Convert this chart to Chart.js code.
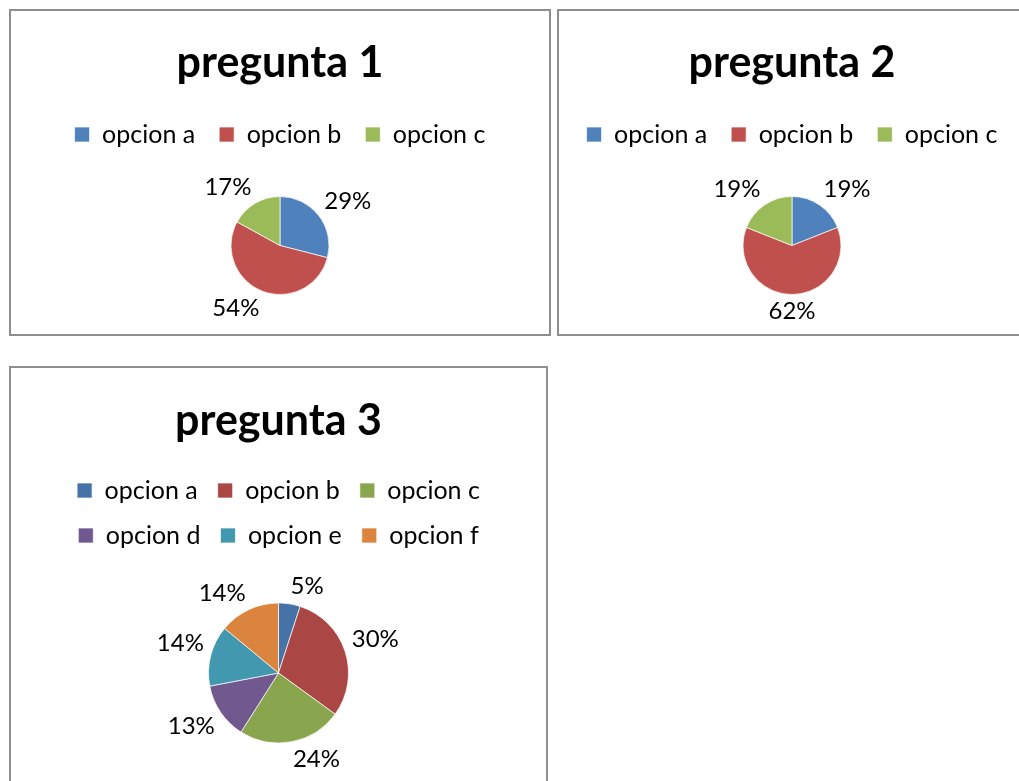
<!DOCTYPE html>
<html>
<head>
<meta charset="utf-8">
<script src="https://cdn.jsdelivr.net/npm/chart.js@4.4.0/dist/chart.umd.min.js"></script>
<style>
  body { margin: 0; background: #fff; width: 1019px; height: 781px; overflow: hidden; position: relative; }
  .box { position: absolute; border: 2px solid #8e8e8e; background: #fff; box-sizing: border-box; }
  .box canvas { display: block; }
</style>
</head>
<body>
<div class="box" style="left:9px;top:9px;width:542px;height:327px"><canvas id="c1" width="538" height="323"></canvas></div>
<div class="box" style="left:557px;top:9px;width:470px;height:327px"><canvas id="c2" width="466" height="323"></canvas></div>
<div class="box" style="left:9px;top:366px;width:539px;height:440px"><canvas id="c3" width="535" height="436"></canvas></div>
<script>
// answers per question (percent)
const opciones3 = ['opcion a', 'opcion b', 'opcion c'];
const opciones6 = ['opcion a', 'opcion b', 'opcion c', 'opcion d', 'opcion e', 'opcion f'];
const pregunta1 = [29, 54, 17];
const pregunta2 = [19, 62, 19];
const pregunta3 = [5, 30, 24, 13, 14, 14];

const colores = ['#4F81BD', '#C0504D', '#9BBB59'];
const colores6 = ['#4572A7', '#AA4643', '#89A54E', '#71588F', '#4198AF', '#DB843D'];

Chart.defaults.color = '#000';
Chart.defaults.font.family = 'Lato';

// percent labels just outside each slice
const outsideLabels = {
  id: 'outsideLabels',
  afterDatasetsDraw(chart, args, opts) {
    const ctx = chart.ctx;
    const meta = chart.getDatasetMeta(0);
    const values = chart.data.datasets[0].data;
    const total = values.reduce((a, b) => a + b, 0);
    ctx.save();
    ctx.font = opts.size + 'px Lato';
    ctx.fillStyle = '#000';
    ctx.textAlign = 'center';
    ctx.textBaseline = 'middle';
    meta.data.forEach((arc, i) => {
      const p = arc.getProps(['x', 'y', 'startAngle', 'endAngle', 'outerRadius'], true);
      const mid = (p.startAngle + p.endAngle) / 2;
      const ux = Math.cos(mid), uy = Math.sin(mid);
      const text = Math.round(values[i] / total * 100) + '%';
      const w = ctx.measureText(text).width;
      const h = opts.size * 0.85;
      const r = p.outerRadius + opts.gap;
      const sx = Math.abs(ux) < 0.05 ? 0 : Math.sign(ux);
      const sy = Math.abs(uy) < 0.05 ? 0 : Math.sign(uy);
      ctx.fillText(text, p.x + r * ux + sx * w / 2, p.y + r * uy + sy * h / 2);
    });
    ctx.restore();
  }
};

function pie(id, titulo, labels, data, colors, cfg) {
  return new Chart(document.getElementById(id), {
    type: 'pie',
    data: {
      labels: labels,
      datasets: [{
        data: data,
        backgroundColor: colors,
        borderColor: 'rgba(255,255,255,0.7)',
        borderWidth: 1
      }]
    },
    options: {
      responsive: false,
      animation: false,
      radius: cfg.radius,
      layout: { padding: { top: 0, bottom: cfg.bottom, left: 0, right: 0 } },
      plugins: {
        title: {
          display: true,
          text: titulo,
          color: '#000',
          font: { size: 43, weight: 'bold', family: 'Lato' },
          padding: { top: cfg.titleTop, bottom: cfg.titleBottom }
        },
        legend: {
          position: 'top',
          labels: {
            boxWidth: 15,
            boxHeight: 15,
            padding: cfg.legendPad,
            color: '#000',
            font: { size: 25, family: 'Lato' }
          }
        },
        tooltip: { enabled: false },
        outsideLabels: { size: 24, gap: 7 }
      }
    },
    plugins: [outsideLabels]
  });
}

pie('c1', 'pregunta 1', opciones3, pregunta1, colores,
  { radius: 49, bottom: 0, titleTop: 26, titleBottom: 9.4, legendPad: 24 });
pie('c2', 'pregunta 2', opciones3, pregunta2, colores,
  { radius: 49, bottom: 0, titleTop: 26, titleBottom: 9.4, legendPad: 24 });
pie('c3', 'pregunta 3', opciones6, pregunta3, colores6,
  { radius: 70, bottom: 16, titleTop: 27, titleBottom: 11.4, legendPad: 20 });
</script>
</body>
</html>
